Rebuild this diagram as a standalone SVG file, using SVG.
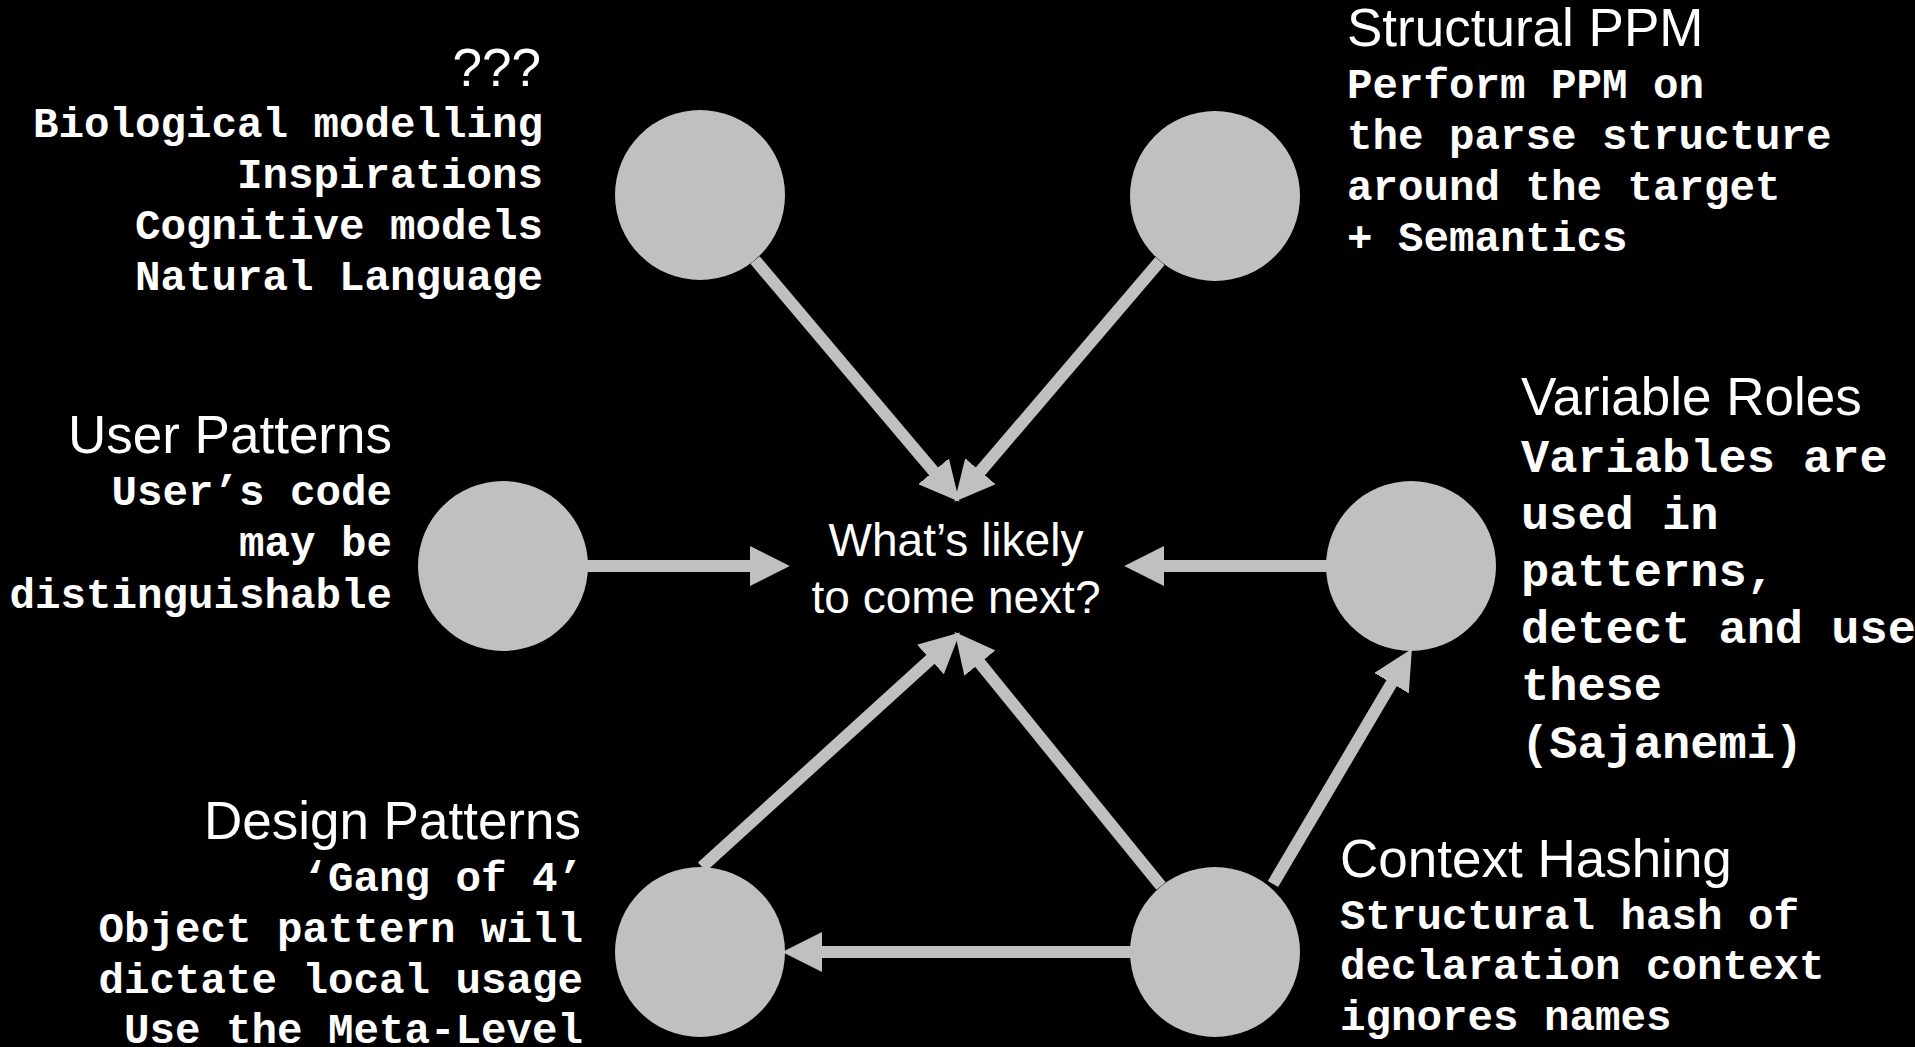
<svg xmlns="http://www.w3.org/2000/svg" width="1915" height="1047" viewBox="0 0 1915 1047">
<defs>
<style>
.bg{fill:#000}
.node{fill:#C0C0C0}
.conn line{stroke:#C0C0C0;stroke-width:12;fill:none}
.t{font-family:"Liberation Sans",Arial,sans-serif;font-size:53px;fill:#fff}
.c{font-family:"Liberation Sans",Arial,sans-serif;font-size:46px;fill:#fff;text-anchor:middle}
.m{font-family:"Liberation Mono","Courier New",monospace;font-weight:bold;font-size:42.5px;fill:#fff}
.m2{font-family:"Liberation Mono","Courier New",monospace;font-weight:bold;font-size:47px;fill:#fff}
.e{text-anchor:end}
</style>
<marker id="ah" markerUnits="userSpaceOnUse" markerWidth="40" markerHeight="40" viewBox="0 0 36 36" refX="2" refY="18" orient="auto">
<path d="M0,0 L36,18 L0,36 z" fill="#C0C0C0"/>
</marker>
</defs>
<rect class="bg" x="0" y="0" width="1915" height="1047"/>

<g id="center">
<text class="c" x="956" y="556">What’s likely</text>
<text class="c" x="956" y="613">to come next?</text>
</g>

<g id="connectors" class="conn">
<line x1="755" y1="260" x2="935" y2="473" marker-end="url(#ah)"/>
<line x1="1160" y1="261" x2="979" y2="473" marker-end="url(#ah)"/>
<line x1="586" y1="566" x2="752" y2="566" marker-end="url(#ah)"/>
<line x1="1328" y1="566" x2="1162" y2="566" marker-end="url(#ah)"/>
<line x1="702" y1="867" x2="932" y2="658" marker-end="url(#ah)"/>
<line x1="1161" y1="886" x2="978.5" y2="661.4" marker-end="url(#ah)"/>
<line x1="1273" y1="884" x2="1392.7" y2="681.3" marker-end="url(#ah)"/>
<line x1="1132" y1="952" x2="820" y2="952" marker-end="url(#ah)"/>
</g>

<g id="node-unknown">
<circle class="node" cx="700" cy="195" r="85"/>
<text class="t e" x="541" y="86">???</text>
<text class="m e" x="543" y="137">Biological modelling</text>
<text class="m e" x="543" y="188">Inspirations</text>
<text class="m e" x="543" y="239">Cognitive models</text>
<text class="m e" x="543" y="290">Natural Language</text>
</g>

<g id="node-structural-ppm">
<circle class="node" cx="1215" cy="196" r="85"/>
<text class="t" x="1347" y="46">Structural PPM</text>
<text class="m" x="1347" y="98">Perform PPM on</text>
<text class="m" x="1347" y="149">the parse structure</text>
<text class="m" x="1347" y="200">around the target</text>
<text class="m" x="1347" y="251">+ Semantics</text>
</g>

<g id="node-user-patterns">
<circle class="node" cx="503" cy="566" r="85"/>
<text class="t e" x="392" y="453">User Patterns</text>
<text class="m e" x="392" y="505">User’s code</text>
<text class="m e" x="392" y="556">may be</text>
<text class="m e" x="392" y="608">distinguishable</text>
</g>

<g id="node-variable-roles">
<circle class="node" cx="1411" cy="566" r="85"/>
<text class="t" x="1521" y="415">Variable Roles</text>
<text class="m2" x="1521" y="472">Variables are</text>
<text class="m2" x="1521" y="529">used in</text>
<text class="m2" x="1521" y="586">patterns,</text>
<text class="m2" x="1521" y="643">detect and use</text>
<text class="m2" x="1521" y="700">these</text>
<text class="m2" x="1521" y="758">(Sajanemi)</text>
</g>

<g id="node-design-patterns">
<circle class="node" cx="700" cy="952" r="85"/>
<text class="t e" x="581" y="839">Design Patterns</text>
<text class="m e" x="583" y="891">‘Gang of 4’</text>
<text class="m e" x="583" y="942">Object pattern will</text>
<text class="m e" x="583" y="993">dictate local usage</text>
<text class="m e" x="583" y="1043">Use the Meta-Level</text>
</g>

<g id="node-context-hashing">
<circle class="node" cx="1215" cy="952" r="85"/>
<text class="t" x="1340" y="877">Context Hashing</text>
<text class="m" x="1340" y="929">Structural hash of</text>
<text class="m" x="1340" y="979">declaration context</text>
<text class="m" x="1340" y="1030">ignores names</text>
</g>
</svg>
